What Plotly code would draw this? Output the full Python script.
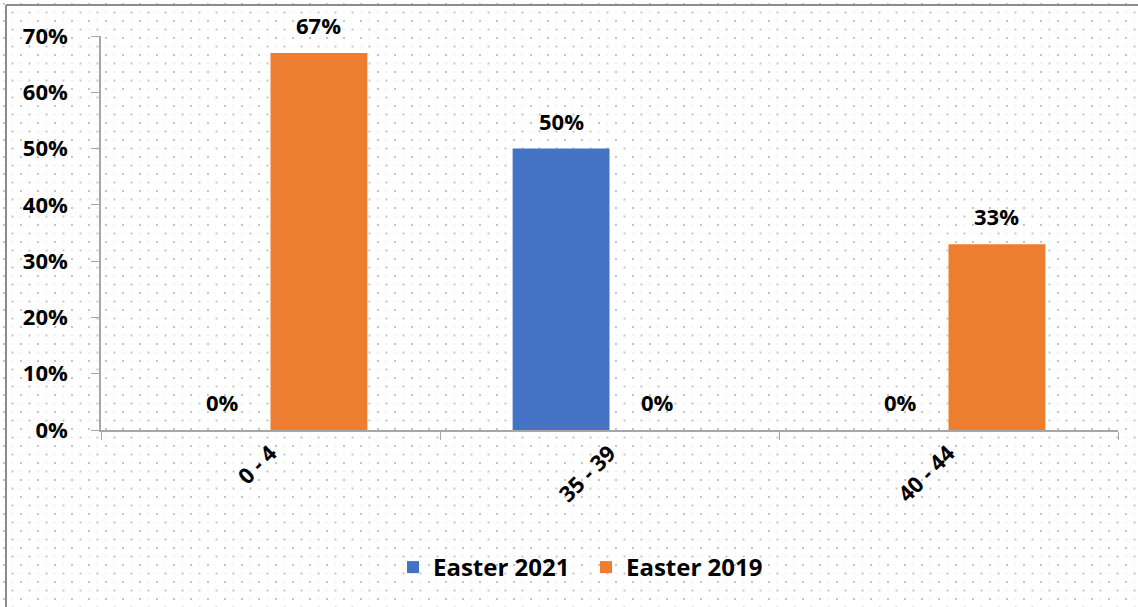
import base64
import plotly.graph_objects as go

# Share of visitors by age band
age_bands = ["0 - 4", "35 - 39", "40 - 44"]
easter_2021 = [0.00, 0.50, 0.00]
easter_2019 = [0.67, 0.00, 0.33]
y_ticks = [0.0, 0.1, 0.2, 0.3, 0.4, 0.5, 0.6, 0.7]

BLUE = "#4472C4"
ORANGE = "#ED7D31"
AXIS_GREY = "#A6A6A6"
FONT = "Open Sans"
FS = 22

W, H = 1138, 607
ML, MR, MT, MB = 101, 20, 36, 177
PW, PH = W - ML - MR, H - MT - MB


def px_to_paper_x(px):
    return (px - ML) / PW


def px_to_paper_y(py):
    return (H - MB - py) / PH


# dotted chart-area texture
svg = f"""<svg xmlns='http://www.w3.org/2000/svg' width='{W}' height='{H}' viewBox='0 0 {W} {H}'>
<defs><pattern id='d' width='17' height='17' patternUnits='userSpaceOnUse'>
<rect x='3' y='3' width='2' height='2' fill='#c4c4c4'/>
<rect x='11.5' y='11.5' width='2' height='2' fill='#c4c4c4'/>
<rect x='11.5' y='3.5' width='1' height='1' fill='#d8d8d8'/>
<rect x='3.5' y='12' width='1' height='1' fill='#d8d8d8'/>
</pattern></defs>
<rect width='{W}' height='{H}' fill='url(#d)'/>
</svg>"""
bg_uri = "data:image/svg+xml;base64," + base64.b64encode(svg.encode()).decode()

bold = dict(family=FONT, size=FS, color="#000000", weight="bold")

fig = go.Figure()
fig.add_trace(go.Bar(name="Easter 2021", x=age_bands, y=easter_2021,
                     marker_color=BLUE, marker_line_width=0))
fig.add_trace(go.Bar(name="Easter 2019", x=age_bands, y=easter_2019,
                     marker_color=ORANGE, marker_line_width=0))

# value labels above each bar
bar_w = PW / 3 / 3.5
for values, shift in ((easter_2021, -bar_w / 2), (easter_2019, bar_w / 2)):
    for cat, v in zip(age_bands, values):
        fig.add_annotation(x=cat, y=v, xref="x", yref="y",
                           text=f"{v:.0%}", showarrow=False,
                           xshift=shift, yshift=11, yanchor="bottom",
                           font=bold)

# frame around the chart
fx0, fy0 = px_to_paper_x(6), px_to_paper_y(5)
fx1, fy1 = px_to_paper_x(W + 5), px_to_paper_y(H + 5)
fig.add_shape(type="line", xref="paper", yref="paper",
              x0=fx0, y0=fy0, x1=fx1, y1=fy0,
              line=dict(color="#8C8C8C", width=2))
fig.add_shape(type="line", xref="paper", yref="paper",
              x0=fx0, y0=fy0, x1=fx0, y1=fy1,
              line=dict(color="#8C8C8C", width=2))

fig.add_layout_image(source=bg_uri, xref="paper", yref="paper",
                     x=px_to_paper_x(0), y=px_to_paper_y(0),
                     sizex=W / PW, sizey=H / PH, sizing="stretch",
                     xanchor="left", yanchor="top", layer="below")

fig.update_layout(
    width=W, height=H,
    margin=dict(l=ML, r=MR, t=MT, b=MB),
    paper_bgcolor="#FFFFFF",
    plot_bgcolor="rgba(0,0,0,0)",
    barmode="group",
    bargap=1.5 / 3.5,
    bargroupgap=0,
    font=bold,
    showlegend=True,
    legend=dict(orientation="h", x=px_to_paper_x(393), xanchor="left",
                y=px_to_paper_y(545), yanchor="top",
                font=dict(family=FONT, size=24, color="#000000", weight="bold"),
                bgcolor="rgba(0,0,0,0)", itemwidth=30, tracegroupgap=0,
                entrywidth=148, entrywidthmode="pixels"),
    xaxis=dict(
        showgrid=False, showline=True, linecolor=AXIS_GREY, linewidth=1.5,
        ticks="outside", tickson="boundaries", ticklen=8,
        tickcolor=AXIS_GREY, tickangle=-45,
        tickfont=bold,
    ),
    yaxis=dict(
        range=[0, 0.7], tickvals=y_ticks, tickformat=".0%",
        showgrid=False, zeroline=False, showline=True,
        linecolor=AXIS_GREY, linewidth=1.5,
        ticks="outside", ticklen=8, tickcolor=AXIS_GREY,
        ticklabelstandoff=19,
        tickfont=bold,
    ),
)

fig.write_html("out.html")
